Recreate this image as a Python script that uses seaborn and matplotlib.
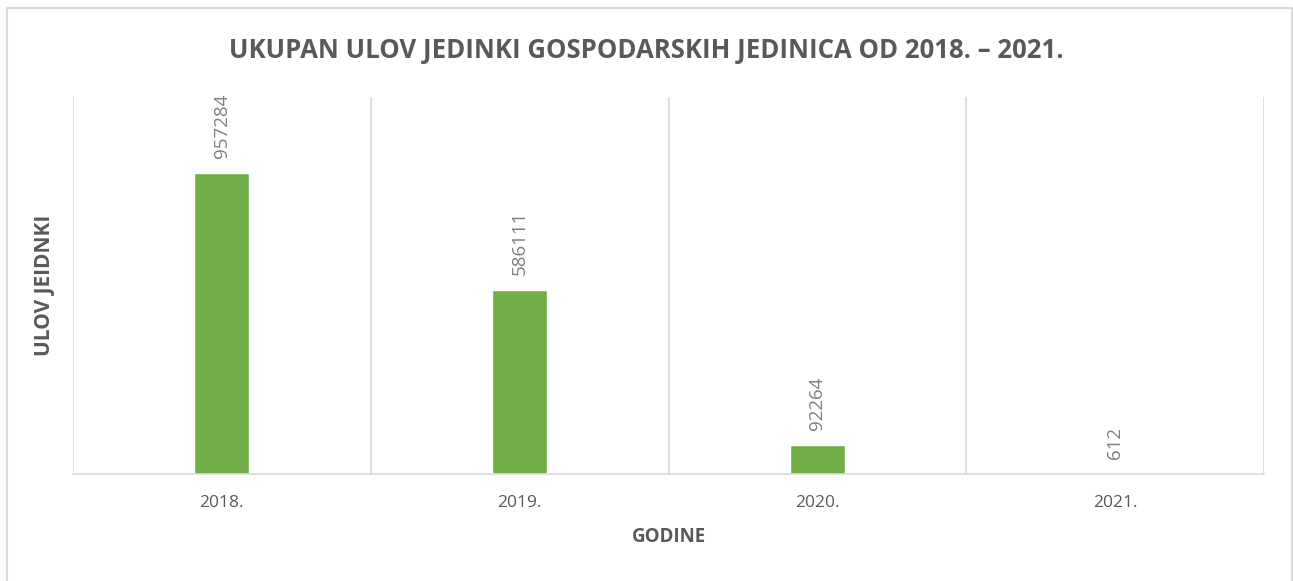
import matplotlib
matplotlib.use("Agg")
import matplotlib.pyplot as plt
from matplotlib.lines import Line2D
import seaborn as sns
import pandas as pd

years = ["2018.", "2019.", "2020.", "2021."]
catch = [957284, 586111, 92264, 612]

title = "UKUPAN ULOV JEDINKI GOSPODARSKIH JEDINICA OD 2018. – 2021."
xlabel = "GODINE"
ylabel = "ULOV JEIDNKI"

sns.set_style("white")
plt.rcParams["font.family"] = ["Open Sans", "DejaVu Sans"]

df = pd.DataFrame({"year": years, "catch": catch})

W, H = 1293, 581
fig = plt.figure(figsize=(W / 100, H / 100), dpi=100)
ax = fig.add_axes([73 / W, 1 - 474 / H, (1264 - 73) / W, (474 - 97) / H])

sns.barplot(data=df, x="year", y="catch", color="#70AD47", width=0.185,
            saturation=1, ax=ax)

ax.set_xlim(-0.5, len(years) - 0.5)
ax.set_ylim(0, 1200000)
ax.set_yticks([])

grid_c = "#D9D9D9"
for b in [x + 0.5 for x in range(-1, len(years))]:
    ax.axvline(b, color=grid_c, lw=1.2, zorder=0)

for s in ["top", "left", "right"]:
    ax.spines[s].set_visible(False)
ax.spines["bottom"].set_color(grid_c)
ax.spines["bottom"].set_linewidth(1.2)

ax.tick_params(axis="x", length=0, pad=15, labelsize=12.5, labelcolor="#595959")

for c in ax.containers:
    ax.bar_label(c, labels=[str(v) for v in catch], rotation=90, padding=11,
                 fontsize=13.5, color="#7F7F7F")

ax.set_xlabel(xlabel, fontsize=13.5, fontweight="bold", color="#595959", labelpad=12)
ax.set_ylabel(ylabel, fontsize=15, fontweight="bold", color="#595959", labelpad=13)

fig.text(0.5, 1 - 50 / H, title, ha="center", va="center", fontsize=18.5,
         fontweight="bold", color="#595959")

# outer chart border
fig.add_artist(Line2D([7 / W, 7 / W, 1292 / W, 1292 / W],
                      [0, 1 - 8 / H, 1 - 8 / H, 0],
                      transform=fig.transFigure, color=grid_c, lw=1.5))

fig.savefig("out.png", dpi=100, facecolor="white")
